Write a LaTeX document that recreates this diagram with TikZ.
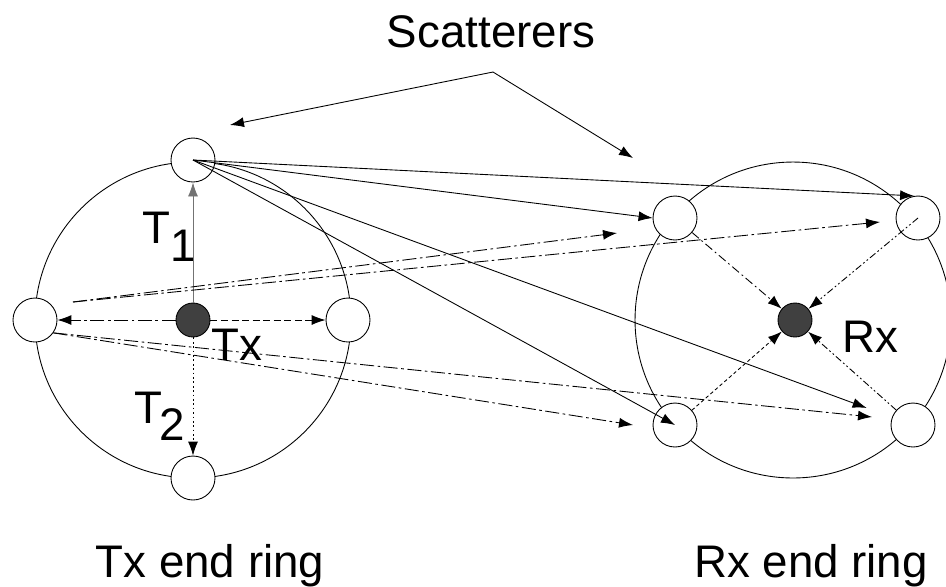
\documentclass[tikz,border=0pt]{standalone}
\usepackage{fontspec}
\setmainfont{Liberation Sans}
\usetikzlibrary{arrows.meta,positioning}

\begin{document}
\begin{tikzpicture}[
    x=0.02cm, y=-0.02cm,
    ring/.style={draw, line width=0.5pt},
    scat/.style={draw, circle, fill=white, minimum size=0.88cm, inner sep=0pt, line width=0.5pt},
    endpt/.style={draw, circle, fill=black!75, minimum size=0.68cm, inner sep=0pt, line width=0.5pt},
    lbl/.style={font=\fontsize{26}{31}\selectfont, inner sep=0pt},
    ray/.style={-{Latex[length=0.28cm,width=0.2cm]}, line width=0.5pt},
    dashdot/.style={ray, dash pattern=on 8pt off 2pt on 1.5pt off 2pt},
    dashed ray/.style={ray, dash pattern=on 4pt off 2pt},
    dotted ray/.style={ray, dash pattern=on 1pt off 1.5pt},
    fine ray/.style={ray, dash pattern=on 2pt off 1.5pt},
    dashdotdot/.style={ray, dash pattern=on 4pt off 1.5pt on 1pt off 1.5pt on 1pt off 1.5pt}
]
    \useasboundingbox (0,0) rectangle (946,586);

    % the two rings
    \draw[ring] (193,320) circle [radius=3.16cm];
    \draw[ring] (793,320) circle [radius=3.16cm];

    % scatterers round the Tx end
    \node[scat] (tnorth) at (193,160) {};
    \node[scat] (tsouth) at (193,478) {};
    \node[scat] (twest) at (35,320) {};
    \node[scat] (teast) at (348,320) {};
    \node[endpt] (tx) at (193,320) {};

    % scatterers round the Rx end
    \node[scat] (rnw) at (675,218) {};
    \node[scat] (rne) at (918,218) {};
    \node[scat] (rsw) at (675,425) {};
    \node[scat] (rse) at (913,425) {};
    \node[endpt] (rx) at (795,320) {};

    % labels
    \node[lbl, anchor=base] (scatlbl) at (491,47) {Scatterers};
    \node[lbl, anchor=base west] (tone) at (142,243) {T\raisebox{-0.4em}{1}};
    \node[lbl, anchor=base west] (ttwo) at (134,423) {T\kern-0.05em\raisebox{-0.38em}{2}};
    \node[lbl, anchor=base] (txlbl) at (237,360) {Tx};
    \node[lbl, anchor=base] (rxlbl) at (870,352) {Rx};
    \node[lbl, anchor=base] (txring) at (210,577) {Tx end ring};
    \node[lbl, anchor=base] (rxring) at (811,577) {Rx end ring};

    \coordinate (fork) at (493,72);
    \coordinate (sleft) at (230,125);
    \coordinate (sright) at (633,158);
    \draw[ray] (fork) -- (sleft);
    \draw[ray] (fork) -- (sright);

    % Tx to its ring
    \draw[ray, draw=black!55] (tx) -- (tnorth);
    \draw[dotted ray] (tx) -- (tsouth);
    \draw[dashdot] (tx) -- (twest);
    \draw[dashed ray] (tx) -- (teast);

    % single bounces from the top scatterer
    \draw[ray] (tnorth.center) -- (rne.100);
    \draw[ray] (tnorth.center) -- (rnw.west);
    \draw[ray, shorten >=0.54cm] (tnorth.center) -- (rse);
    \draw[ray] (tnorth.center) -- (rsw.center);

    % from the west scatterer
    \coordinate (wup) at (73,302);
    \coordinate (e1) at (617,233);
    \coordinate (e2) at (880,222);
    \coordinate (e3) at (633,425);
    \coordinate (e4) at (872,417);
    \draw[dashdot] (wup) -- (e1);
    \draw[dashdot] (wup) -- (e2);
    \draw[dashdot] (twest.-35) -- (e3);
    \draw[dashdot] (twest.-35) -- (e4);

    % Rx ring to Rx
    \draw[ray, dash pattern=on 5pt off 2pt on 1pt off 2pt] (rnw) -- (rx);
    \draw[dashdotdot] (rne.center) -- (rx);
    \draw[fine ray] (rsw) -- (rx);
    \draw[dashdotdot] (rse) -- (rx);
\end{tikzpicture}
\end{document}
